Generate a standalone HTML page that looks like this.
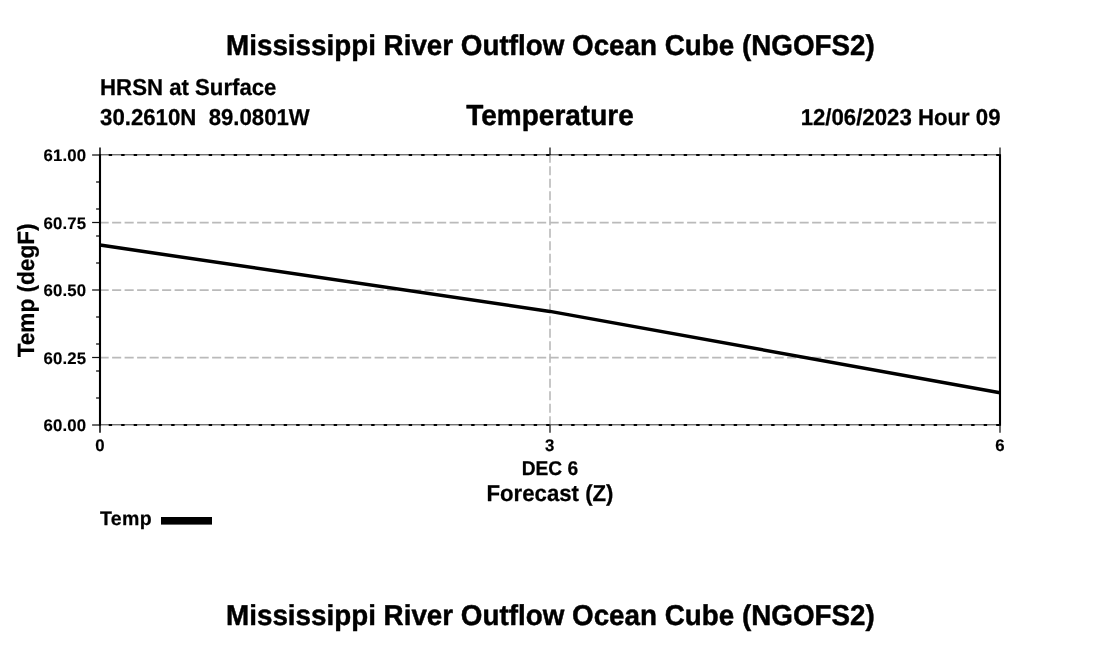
<!DOCTYPE html>
<html><head><meta charset="utf-8"><title>Mississippi River Outflow Ocean Cube (NGOFS2)</title>
<style>
html,body{margin:0;padding:0;background:#fff;}
body{width:1100px;height:650px;overflow:hidden;position:relative;}
svg{position:absolute;left:0;top:0;display:block;}
text{font-family:"Liberation Sans",sans-serif;font-weight:bold;fill:#000;stroke:#000;stroke-width:0.25px;text-rendering:geometricPrecision;stroke-linejoin:round;}
.big{stroke-width:0.45px;}
.sm{stroke-width:0.15px;}
</style></head><body>
<svg width="1100" height="650" viewBox="0 0 1100 650">
<rect width="1100" height="650" fill="#fff"/>
<!-- grid -->
<g stroke="#bababa" stroke-width="1.6" stroke-dasharray="9.1 3.4" fill="none">
<line x1="99.6" y1="222.6" x2="999" y2="222.6"/>
<line x1="99.6" y1="290.1" x2="999" y2="290.1"/>
<line x1="99.6" y1="357.6" x2="999" y2="357.6"/>
<line x1="550" y1="153.7" x2="550" y2="425"/>
</g>
<!-- top/bottom border: thin grey + black dots -->
<g stroke="#383838" stroke-width="1" fill="none">
<line x1="100" y1="154.8" x2="1000" y2="154.8"/>
<line x1="100" y1="424.8" x2="1000" y2="424.8"/>
</g>
<g stroke="#000" stroke-width="2" stroke-dasharray="3.4 9.1" fill="none">
<line x1="108.7" y1="155" x2="1000" y2="155"/>
<line x1="108.7" y1="425" x2="1000" y2="425"/>
</g>
<!-- ticks -->
<g stroke="#111" stroke-width="1.25" fill="none">
<line x1="100" y1="147.4" x2="100" y2="155" stroke-width="1.6"/>
<line x1="100" y1="425" x2="100" y2="432.7" stroke-width="1.6"/>
<line x1="550" y1="147.4" x2="550" y2="155"/>
<line x1="550" y1="425" x2="550" y2="432.7"/>
<line x1="1000" y1="147.4" x2="1000" y2="155"/>
<line x1="1000" y1="425" x2="1000" y2="432.7"/>
<line x1="92.1" y1="155.0" x2="100" y2="155.0"/>
<line x1="92.1" y1="222.5" x2="100" y2="222.5"/>
<line x1="92.1" y1="290.0" x2="100" y2="290.0"/>
<line x1="92.1" y1="357.5" x2="100" y2="357.5"/>
<line x1="92.1" y1="425.0" x2="100" y2="425.0"/>
</g>
<g stroke="#111" stroke-width="1.3" fill="none">
<line x1="96.1" y1="182" x2="100" y2="182"/>
<line x1="96.1" y1="209" x2="100" y2="209"/>
<line x1="96.1" y1="236" x2="100" y2="236"/>
<line x1="96.1" y1="263" x2="100" y2="263"/>
<line x1="96.1" y1="317" x2="100" y2="317"/>
<line x1="96.1" y1="344" x2="100" y2="344"/>
<line x1="96.1" y1="371" x2="100" y2="371"/>
<line x1="96.1" y1="398" x2="100" y2="398"/>
</g>
<!-- axes -->
<g stroke="#000" stroke-width="2.1" fill="none">
<line x1="100" y1="154.3" x2="100" y2="425.7"/>
<line x1="1000" y1="154.3" x2="1000" y2="425.7"/>
</g>
<!-- data -->
<polyline points="100,245.1 550,311.4 1000,392.7" fill="none" stroke="#000" stroke-width="3.5" stroke-linejoin="round"/>
<!-- legend bar -->
<rect x="161" y="517" width="51" height="7.6" fill="#000"/>
<!-- text -->
<text transform="translate(550.4 55) scale(1 1.035)" font-size="27.8" text-anchor="middle" class="big">Mississippi River Outflow Ocean Cube (NGOFS2)</text>
<text transform="translate(550.4 625) scale(1 1.035)" font-size="27.8" text-anchor="middle" class="big">Mississippi River Outflow Ocean Cube (NGOFS2)</text>
<text transform="translate(100.1 95) scale(1 1.035)" font-size="22.2">HRSN at Surface</text>
<text transform="translate(100.1 125) scale(1 1.035)" font-size="22.2" xml:space="preserve" style="white-space:pre">30.2610N  89.0801W</text>
<text transform="translate(550 125) scale(1 1.035)" font-size="28" text-anchor="middle" class="big">Temperature</text>
<text transform="translate(1000.5 125) scale(1 1.035)" font-size="22.2" text-anchor="end">12/06/2023 Hour 09</text>
<text transform="translate(86.3 161)" font-size="16.8" letter-spacing="0.15" text-anchor="end" class="sm">61.00</text>
<text transform="translate(86.3 229)" font-size="16.8" letter-spacing="0.15" text-anchor="end" class="sm">60.75</text>
<text transform="translate(86.3 296)" font-size="16.8" letter-spacing="0.15" text-anchor="end" class="sm">60.50</text>
<text transform="translate(86.3 364)" font-size="16.8" letter-spacing="0.15" text-anchor="end" class="sm">60.25</text>
<text transform="translate(86.3 431)" font-size="16.8" letter-spacing="0.15" text-anchor="end" class="sm">60.00</text>
<text transform="translate(99.9 451)" font-size="16.8" letter-spacing="0.15" text-anchor="middle" class="sm">0</text>
<text transform="translate(549.8 451)" font-size="16.8" letter-spacing="0.15" text-anchor="middle" class="sm">3</text>
<text transform="translate(1000 451)" font-size="16.8" letter-spacing="0.15" text-anchor="middle" class="sm">6</text>
<text transform="translate(549.9 475) scale(1 1.035)" font-size="19.2" text-anchor="middle">DEC 6</text>
<text transform="translate(550 501) scale(1 1.035)" font-size="22.2" text-anchor="middle">Forecast (Z)</text>
<text transform="translate(100.1 525)" font-size="19.5" letter-spacing="0.3">Temp</text>
<text transform="translate(34 290.4) rotate(-90) scale(1 1.035)" font-size="22.6" text-anchor="middle">Temp (degF)</text>
</svg>
</body></html>
